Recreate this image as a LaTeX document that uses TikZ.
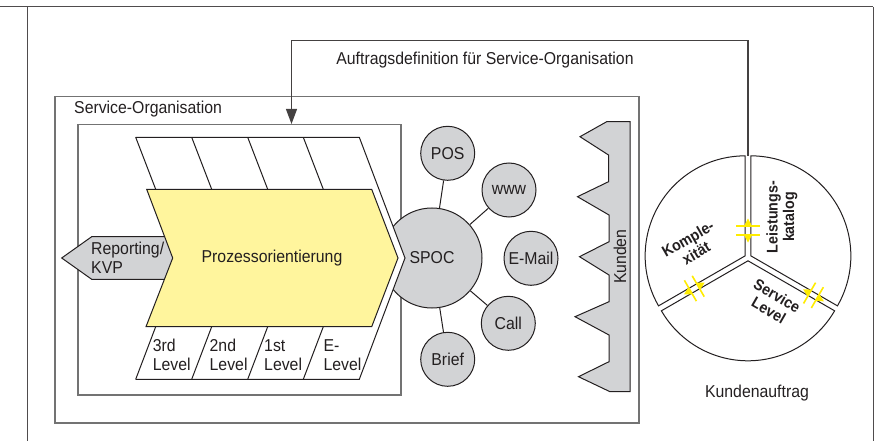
\documentclass[tikz,border=0pt]{standalone}
\usepackage{fontspec}
\setmainfont{Liberation Sans}[FakeStretch=0.92]
\usetikzlibrary{arrows.meta}
\definecolor{ink}{RGB}{35,31,32}
\definecolor{boxgray}{RGB}{115,115,115}
\definecolor{fillgray}{RGB}{210,211,213}
\definecolor{chevyellow}{RGB}{255,245,157}
\definecolor{markyellow}{RGB}{255,236,0}
\tikzset{
 txt/.style={font=\fontsize{17.2}{18.5}\selectfont, text=ink, inner sep=0pt},
 btxt/.style={font=\bfseries\fontsize{15.5}{16.5}\selectfont, text=ink, inner sep=0pt, align=center},
 frameline/.style={draw=ink!80, line width=1pt},
 boxline/.style={draw=boxgray, line width=1.5pt},
 ln/.style={draw=ink, line width=1pt},
 sat/.style={circle, draw=ink, line width=1pt, fill=fillgray, minimum size=54pt, inner sep=0pt, font=\fontsize{17.2}{18.5}\selectfont, text=ink},
 conn/.style={draw=ink, line width=1pt},
 arr/.style={draw=ink!85, line width=1.1pt, -{Triangle[length=15pt,width=11pt]}},
 markbar/.style={draw=markyellow, line width=1.6pt},
 marktip/.style={fill=markyellow},
}
\begin{document}
\begin{tikzpicture}[x=1pt,y=-1pt]
\useasboundingbox (0,0) rectangle (884,441);
% frame lines
\draw[frameline] (0,7) -- (873,7);
\draw[frameline] (27,7) -- (27,441);
\draw[frameline] (873,7) -- (873,441);

% boxes
\node[boxline, minimum width=584pt, minimum height=326pt, anchor=north west, inner sep=0pt] (outer) at (54,96) {};
\node[boxline, minimum width=323pt, minimum height=270pt, anchor=north west, inner sep=0pt] (inner) at (77,124) {};
\node[txt, anchor=west] (orglabel) at (74,109) {Service-Organisation};

% order arrow
\coordinate (pietop) at (748,156);
\draw[arr] (pietop) |- (291.5,40.5) -- (291.5,0 |- inner.north);
\node[txt] (auftrag) at (485,60) {Auftragsdefinition für Service-Organisation};

% reporting arrow
\draw[ln, fill=fillgray] (61.7,258) -- (91.7,236.7) -- (175,236.7) -- (175,279.3) -- (91.7,279.3) -- cycle;
\node[txt, align=left, anchor=west] (report) at (91,258) {Reporting/\\KVP};

% SPOC and channels
\node[sat, minimum size=100pt] (spoc) at (432,258) {SPOC};
\node[sat] (pos) at (447.7,153.3) {POS};
\node[sat] (www) at (509,190) {www};
\node[sat] (mail) at (531,258.3) {E-Mail};
\node[sat] (call) at (508.3,323.3) {Call};
\node[sat] (brief) at (447.7,359.3) {Brief};
\draw[conn] (spoc) -- (pos);
\draw[conn] (spoc) -- (www);
\draw[conn] (spoc) -- (call);
\draw[conn] (spoc) -- (brief);

% process band
\fill[white] (135.7,137.3) -- (359.3,137.3) -- (405,258) -- (359.3,379.3) -- (135.7,379.3) -- (156,326.7) -- (172.7,258) -- (155.7,189.3) -- cycle;
\draw[ln] (135.7,137.3) -- (359.3,137.3) -- (405,258) -- (359.3,379.3) -- (135.7,379.3);
\foreach \xx in {135.7,191.7,247.7,303.3} {
  \draw[ln] (\xx,137.3) -- ++(20,52);
  \draw[ln] (\xx,379.3) -- ++(20,-52.6);
}
\draw[ln, fill=chevyellow] (146.7,189.3) -- (371.7,189.3) -- (398,258) -- (371.7,326.7) -- (146,326.7) -- (172.7,258) -- cycle;
\node[txt] (prozess) at (272,258) {Prozessorientierung};
\node[txt, align=left, anchor=west] (l3) at (152.7,355) {3rd\\Level};
\node[txt, align=left, anchor=west] (l2) at (209.5,355) {2nd\\Level};
\node[txt, align=left, anchor=west] (l1) at (264,355) {1st\\Level};
\node[txt, align=left, anchor=west] (le) at (323.3,355) {E-\\Level};

% Kunden
\draw[ln, fill=fillgray] (630,121.7) -- (606.7,121.7) -- (580,136.7) -- (608.5,155) -- (608.5,181.7) -- (577.5,196.7) -- (609,215) -- (609,241.7) -- (579.5,256.7) -- (609,275) -- (609,301.7) -- (575,316.7) -- (609,335) -- (609,361.7) -- (578.5,376.7) -- (610,391.7) -- (630,391.7) -- cycle;
\node[txt, rotate=90] (kunden) at (620,256.7) {Kunden};

% pie
\coordinate (C) at (748,257.5);
\foreach \a/\b in {-90/30, 30/150, 150/270} {
  \pgfmathsetmacro\m{(\a+\b)/2}
  \coordinate (A) at ([shift={(\m:3.3)}]C);
  \draw[ln, fill=white] (A) -- plot[domain=\a:\b, samples=80, variable=\t] ([shift={(\t:100)}]A) -- cycle;
}
\node[btxt, rotate=30] (komplex) at (692,246) {Komple-\\xität};
\node[btxt, rotate=90] (leist) at (782,217) {Leistungs-\\katalog};
\node[btxt, rotate=-30] (slevel) at (773,303) {Service\\Level};
\node[txt] (kauftrag) at (757,393) {Kundenauftrag};

% yellow interface marks
\foreach \p/\d in {-90/27, 150/62, 30/75.6} {
  \begin{scope}[shift={(C)}, shift={(\p:\d)}, rotate=-\p]
    \draw[markbar] (-4.5,-12) -- (-4.5,12);
    \draw[markbar] (4.5,-12) -- (4.5,12);
    \fill[marktip] (-4.5,-4) -- (-12,0) -- (-4.5,4) -- cycle;
    \fill[marktip] (4.5,-4) -- (12,0) -- (4.5,4) -- cycle;
  \end{scope}
}
\end{tikzpicture}
\end{document}
